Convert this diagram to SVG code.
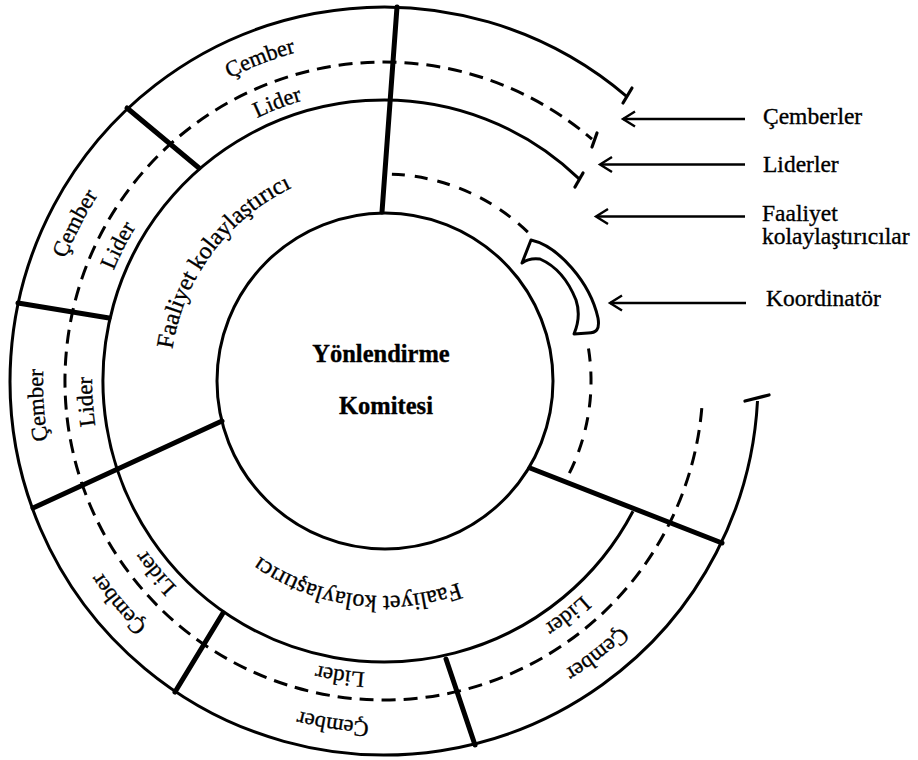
<svg xmlns="http://www.w3.org/2000/svg" width="918" height="760" viewBox="0 0 918 760">
  <style>
    .ring { fill: none; stroke: #000; stroke-width: 3; }
    .dash { fill: none; stroke: #000; stroke-width: 3; stroke-dasharray: 14 8; }
    .dash-in { fill: none; stroke: #000; stroke-width: 3; stroke-dasharray: 13 10; }
    .spoke { stroke: #000; stroke-width: 5; stroke-linecap: round; }
    .tick { stroke: #000; stroke-width: 3.2; stroke-linecap: round; }
    .arrow { stroke: #000; stroke-width: 2.4; fill: none; }
    .lbl { font-family: "Liberation Serif", "Times New Roman", serif; fill: #000; stroke: #000; stroke-width: 0.35; }
    .cember { font-size: 22.5px; }
    .lider { font-size: 22.5px; }
    .faal { font-size: 24px; }
    .legend { font-size: 23.5px; }
    .komite { font-size: 24.5px; font-weight: bold; }
  </style>
  <defs>
    <marker id="open-head" markerUnits="userSpaceOnUse" markerWidth="20" markerHeight="20" refX="0" refY="0" orient="auto" overflow="visible">
      <path d="M-12,-7.5 L0,0 L-12,7.5" fill="none" stroke="#000" stroke-width="2.4" stroke-linejoin="miter"/>
    </marker>
    <!-- clockwise baseline arcs for the curved labels (centre 384,381) -->
    <path id="p-top-c" d="M86.6,217.2 A341,341 0 0 1 495.0,58.6"/>
    <path id="p-top-l" d="M128.6,239.4 A292,292 0 0 1 479.1,104.9"/>
    <path id="p-ul-c" d="M51.7,457.7 A341,341 0 0 1 250.8,67.1"/>
    <path id="p-ul-l" d="M99.5,446.7 A292,292 0 0 1 269.9,112.2"/>
    <path id="p-l-c" d="M138.7,617.9 A341,341 0 0 1 108.1,180.6"/>
    <path id="p-l-l" d="M174.0,583.9 A292,292 0 0 1 147.8,209.4"/>
    <path id="p-bl-c" d="M324.8,716.8 A341,341 0 0 1 43,381"/>
    <path id="p-bl-l" d="M333.3,668.6 A292,292 0 0 1 92,381"/>
    <path id="p-b-c" d="M562.2,671.7 A341,341 0 0 1 128.6,606.9"/>
    <path id="p-b-l" d="M536.6,630.0 A292,292 0 0 1 165.3,574.5"/>
    <path id="p-br-c" d="M717.5,451.9 A341,341 0 0 1 372.1,721.8"/>
    <path id="p-br-l" d="M669.6,441.7 A292,292 0 0 1 373.8,672.8"/>
    <path id="p-faal-ul" d="M187.7,466.3 A214,214 0 0 1 408.2,168.4"/>
    <path id="p-faal-b" d="M554.6,511.9 A215,215 0 0 1 185.4,463.3"/>
  </defs>

  <rect x="0" y="0" width="918" height="760" fill="#fff"/>

  <!-- concentric rings -->
  <g id="rings">
    <path class="ring" d="M757.5,401 A374,374 0 1 1 626.9,96.6"/>
    <path class="dash" d="M701.8,408.2 A319,319 0 1 1 592.0,139.2"/>
    <path class="ring" d="M633,511.2 A281,281 0 1 1 579.2,178.9"/>
    <path class="dash-in" d="M391.9,174.2 A207,207 0 0 1 532.9,237.2"/>
    <path class="dash-in" d="M588.5,348.6 A207,207 0 0 1 567.3,477.2"/>
  </g>

  <!-- end ticks of the open rings -->
  <g id="ticks">
    <line class="tick" x1="623" y1="103" x2="632" y2="88"/>
    <line class="tick" x1="592" y1="147" x2="597" y2="133"/>
    <line class="tick" x1="575" y1="187" x2="583" y2="173"/>
    <line class="tick" x1="745" y1="401" x2="769" y2="395"/>
  </g>

  <!-- radial dividers -->
  <g id="spokes">
    <line class="spoke" x1="382" y1="212" x2="397" y2="7"/>
    <line class="spoke" x1="222" y1="421" x2="33" y2="508"/>
    <line class="spoke" x1="530" y1="468" x2="722" y2="543"/>
    <line class="spoke" x1="199" y1="168" x2="127" y2="108"/>
    <line class="spoke" x1="109" y1="318" x2="18" y2="303"/>
    <line class="spoke" x1="223" y1="613" x2="175" y2="692"/>
    <line class="spoke" x1="446" y1="659" x2="475" y2="745"/>
  </g>

  <!-- steering committee -->
  <g id="komite">
    <circle class="ring" cx="385" cy="381" r="168"/>
    <text class="lbl komite" x="381" y="362" text-anchor="middle">Yönlendirme</text>
    <text class="lbl komite" x="386" y="414" text-anchor="middle">Komitesi</text>
  </g>

  <!-- coordinator band -->
  <g id="koordinator">
    <path class="ring" stroke-linejoin="round" d="M522,263 L531,240 C558,246 590,282 598,318 C600,330 596,333 588,333 L574,334 C579,322 580,312 576,300 C568,280 556,266 540,259 C532,258 526,260 522,263 Z"/>
  </g>

  <!-- activity facilitator sectors -->
  <g id="faaliyet-ust">
    <text class="lbl faal"><textPath href="#p-faal-ul" startOffset="50%" text-anchor="middle">Faaliyet kolaylaştırıcı</textPath></text>
  </g>
  <g id="faaliyet-alt">
    <text class="lbl faal"><textPath href="#p-faal-b" startOffset="50%" text-anchor="middle">Faaliyet kolaylaştırıcı</textPath></text>
  </g>

  <!-- circle / leader cells -->
  <g id="hucre-ust">
    <text class="lbl cember"><textPath href="#p-top-c" startOffset="50%" text-anchor="middle">Çember</textPath></text>
    <text class="lbl lider"><textPath href="#p-top-l" startOffset="50%" text-anchor="middle">Lider</textPath></text>
  </g>
  <g id="hucre-sol-ust">
    <text class="lbl cember"><textPath href="#p-ul-c" startOffset="50%" text-anchor="middle">Çember</textPath></text>
    <text class="lbl lider"><textPath href="#p-ul-l" startOffset="50%" text-anchor="middle">Lider</textPath></text>
  </g>
  <g id="hucre-sol">
    <text class="lbl cember"><textPath href="#p-l-c" startOffset="50%" text-anchor="middle">Çember</textPath></text>
    <text class="lbl lider"><textPath href="#p-l-l" startOffset="50%" text-anchor="middle">Lider</textPath></text>
  </g>
  <g id="hucre-sol-alt">
    <text class="lbl cember"><textPath href="#p-bl-c" startOffset="50%" text-anchor="middle">Çember</textPath></text>
    <text class="lbl lider"><textPath href="#p-bl-l" startOffset="50%" text-anchor="middle">Lider</textPath></text>
  </g>
  <g id="hucre-alt">
    <text class="lbl cember"><textPath href="#p-b-c" startOffset="50%" text-anchor="middle">Çember</textPath></text>
    <text class="lbl lider"><textPath href="#p-b-l" startOffset="50%" text-anchor="middle">Lider</textPath></text>
  </g>
  <g id="hucre-sag-alt">
    <text class="lbl cember"><textPath href="#p-br-c" startOffset="50%" text-anchor="middle">Çember</textPath></text>
    <text class="lbl lider"><textPath href="#p-br-l" startOffset="50%" text-anchor="middle">Lider</textPath></text>
  </g>

  <!-- legend labels -->
  <g id="lejant-cemberler">
    <text class="lbl legend" x="763" y="124">Çemberler</text>
  </g>
  <g id="lejant-liderler">
    <text class="lbl legend" x="763" y="172">Liderler</text>
  </g>
  <g id="lejant-faaliyet">
    <text class="lbl legend" x="762" y="221">Faaliyet</text>
    <text class="lbl legend" x="762" y="244">kolaylaştırıcılar</text>
  </g>
  <g id="lejant-koordinator">
    <text class="lbl legend" x="766" y="306">Koordinatör</text>
  </g>

  <!-- legend pointers -->
  <g id="connectors">
    <line class="arrow" x1="745" y1="119" x2="623" y2="119" marker-end="url(#open-head)"/>
    <line class="arrow" x1="745" y1="164.5" x2="600" y2="164.5" marker-end="url(#open-head)"/>
    <line class="arrow" x1="745" y1="216.5" x2="596" y2="216.5" marker-end="url(#open-head)"/>
    <line class="arrow" x1="746" y1="303" x2="610" y2="303" marker-end="url(#open-head)"/>
  </g>
</svg>
